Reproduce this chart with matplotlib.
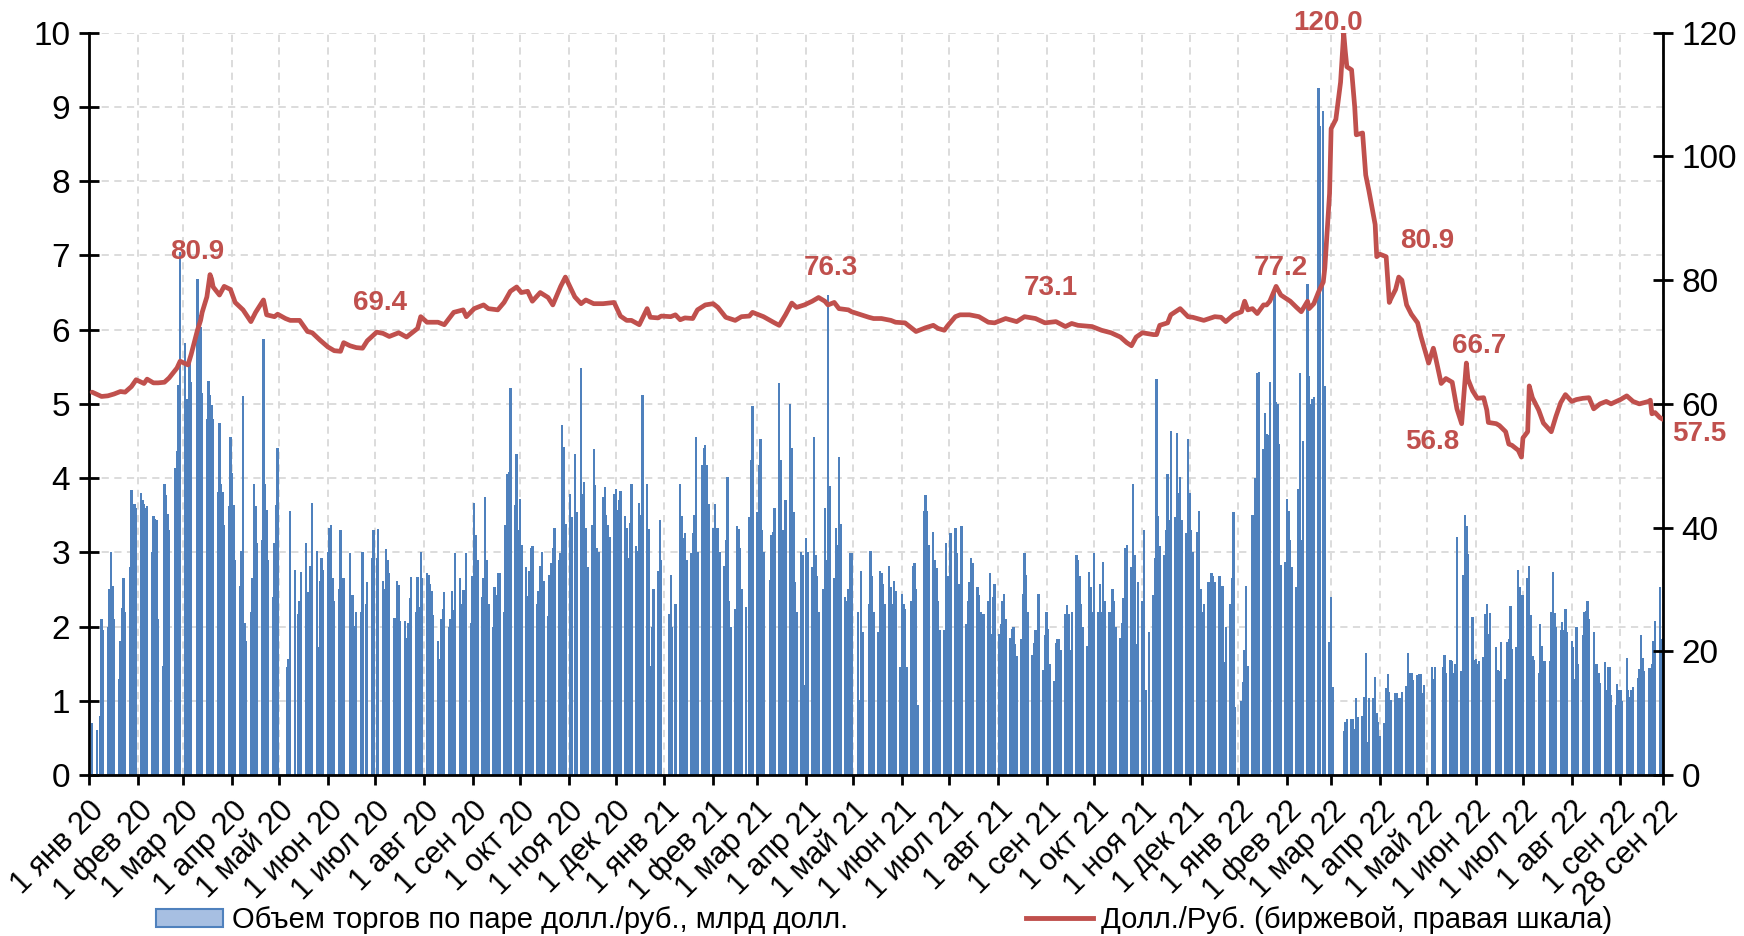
import matplotlib
matplotlib.use("Agg")
import matplotlib.pyplot as plt
import matplotlib.dates as mdates
from matplotlib.patches import Patch
from matplotlib.lines import Line2D
import pandas as pd

# daily trading volume USD/RUB, bn USD; one list per month, one value per weekday
# (None = no trading that day)
vol_2020 = [
    [None, None, 0.7, 0.6, None, 0.8, 2.1, 1.95, 2.0, 2.5, 3.0, 2.55, 2.1, 1.3, 1.8, 2.25, 2.66, 2.2, 2.8, 3.84, 3.28, 3.65, 3.6],
    [3.8, 3.7, 3.65, 3.6, 3.62, 3.0, 3.49, 3.45, 3.43, 2.1, 1.47, 3.92, 3.77, 3.52, 3.3, None, 4.13, 4.37, 5.26, 7.05],
    [5.82, 5.07, 4.15, 5.55, 5.3, None, 6.68, 6.2, 6.03, 5.14, 4.8, 5.31, 5.12, 4.98, 4.8, 3.81, 4.74, 3.92, 3.81, 3.37, 3.62, 4.56],
    [4.07, 3.64, 2.9, 2.55, 3.02, 5.1, 2.05, 1.8, 2.19, 2.65, 3.92, 3.62, 3.13, 3.17, 5.87, 3.92, 3.57, 2.89, 2.4, 3.13, 3.64, 4.4],
    [None, None, None, 1.45, 1.56, 3.56, 2.76, None, 2.17, 2.34, 2.74, 3.13, 2.46, 2.44, 2.82, 3.67, 3.02, 1.73, 2.61, 2.93, 2.76],
    [3.0, 3.33, 3.37, 2.65, 2.34, 2.51, 3.3, 2.34, 2.65, None, 2.99, 2.42, 2.42, 2.01, 2.19, 2.19, 3.01, None, 2.3, 2.6, 2.92, 3.3],
    [None, 2.92, 3.31, 2.61, 2.5, 3.04, 2.89, 2.72, 2.12, 2.12, 2.61, 2.56, 2.07, 2.07, 1.85, 2.05, 2.38, 2.67, 2.2, 2.67, 2.27, 3.01, 2.65],
    [2.72, 2.7, 2.58, 2.48, 2.15, 1.8, 1.56, 2.1, 2.24, 2.46, 2.0, 2.1, 2.48, 2.22, 2.99, 2.65, 2.3, 2.49, 2.49, 2.99, 2.05],
    [2.68, 3.67, 3.24, 2.89, 2.4, 2.65, 3.74, 2.89, 2.31, 2.0, 2.53, 2.42, 2.72, 2.72, 2.2, 3.37, 4.06, 4.08, 5.22, 3.64, 4.33, 3.3],
    [3.72, 3.1, 2.8, 2.41, 2.75, 3.06, 3.08, 2.3, 2.48, 2.82, 3.01, 2.61, 2.14, 2.7, 2.85, 3.06, 3.33, 2.9, 2.99, 4.72, 4.42, 3.38],
    [3.79, 3.47, None, 4.32, 3.54, 5.48, 3.79, 3.95, 3.33, 2.8, 3.37, 4.39, 3.91, 3.06, 3.0, 3.74, 3.88, 3.5, 3.37, 3.2, 3.79],
    [3.86, 3.57, 3.7, 3.83, 3.49, 3.33, 2.92, 3.4, 3.92, 3.09, 3.02, 3.67, 3.5, 5.12, 3.92, 3.31, 1.47, 2.0, 2.5, 2.75, 3.43, 2.9, None],
]
vol_2021 = [
    [None, 2.17, 2.7, 1.99, None, 2.31, 3.92, 3.49, 3.19, 3.26, 2.9, 2.99, 3.26, 3.5, 4.56, 3.0, 4.17, 4.4, 4.44, 4.17, 3.65],
    [3.33, 3.65, 3.33, 3.33, 3.0, 2.82, 3.16, 4.01, 2.34, 2.0, 2.24, 3.35, 3.31, 3.06, 2.5, 2.27, None, 3.47, 4.25, 4.97],
    [3.54, 4.18, 4.53, 3.3, 3.0, None, 2.63, 3.24, 3.28, 3.6, 5.28, 4.24, 3.3, 3.0, 3.71, 5.0, 4.4, 3.54, 2.6, 2.2, 3.01, 2.97, 1.21],
    [3.19, 3.0, 2.8, 4.56, 2.96, 2.68, 2.2, 2.51, 3.6, 2.9, 6.47, 3.9, 2.65, 3.33, 3.1, 4.29, 3.38, 2.4, 2.35, 2.51, 2.99, 2.99],
    [None, 2.19, 1.01, 2.75, 1.92, None, 2.31, 3.02, 2.68, 2.2, 1.93, 2.75, 2.72, 2.58, 2.3, 2.82, 2.53, 2.31, 2.61, 2.48, 1.45],
    [2.44, 2.3, 2.24, 1.45, 2.35, 2.81, 2.85, 2.5, 0.94, None, 3.56, 3.77, 3.56, 3.1, 3.28, 2.9, 2.79, 2.35, 1.95, 1.95, 3.13, 2.68],
    [1.42, 3.26, 3.33, 2.99, 2.58, 2.0, 3.35, 2.03, 2.34, 2.6, 2.92, 2.85, 2.53, 2.42, 2.2, 2.15, 2.17, 2.34, 2.72, 1.9, 2.4, 2.58],
    [1.9, 2.03, 2.34, 2.44, 2.1, 1.85, 1.97, 2.0, 1.76, 1.6, 1.83, 2.44, 2.99, 2.7, 2.2, 1.62, 1.78, 1.95, 1.95, 2.44, 1.42, 1.88],
    [2.19, 1.97, 1.5, 1.26, 1.78, 1.83, 1.83, 1.69, 2.17, 2.29, 2.17, 1.69, 2.2, 2.97, 2.9, 2.68, 2.31, 2.0, 1.74, 2.74, 2.53, 2.2],
    [2.99, 2.19, 2.58, 2.2, 2.87, 2.35, 2.2, 1.8, 2.51, 2.34, 2.0, 1.85, 2.05, 2.38, 3.06, 3.1, 2.8, 3.92, 2.96, 1.76, 2.6],
    [2.34, 3.3, 1.15, None, 1.93, 2.42, 2.92, 5.34, 3.49, 3.09, 2.97, 3.3, 4.05, 3.43, 4.63, 3.47, 4.61, 3.8, 4.01, 3.43, 3.26, 4.53],
    [3.8, 3.3, 3.0, 3.28, 3.56, 2.51, 2.2, 2.31, 2.6, 2.55, 2.72, 2.68, 2.6, 2.68, 2.55, 2.55, 1.52, 2.0, 2.31, 2.65, 3.54, 0.91, None],
]
vol_2022 = [
    [1.0, 1.25, 1.69, 2.55, 1.47, 3.5, 3.26, 4.0, 5.41, 5.43, 4.39, 4.88, 4.59, 4.58, 5.3, 6.49, 5.02, 5.0, 4.46, 2.83, 2.87],
    [3.72, 3.56, 3.17, 2.8, 2.53, 3.86, 5.41, 3.17, 4.5, 6.61, 5.38, 5.0, 5.07, 5.09, 9.25, 8.74, None, 8.95, 5.24, 1.79],
    [2.4, 1.19, None, None, None, None, 0.59, 0.71, 0.75, 0.75, 0.75, 0.62, 1.04, 0.78, 0.8, 1.05, 1.64, 0.44, 1.04, 1.04, 1.32, 0.83, 0.71],
    [0.52, 0.7, 1.17, 1.36, 1.12, 1.01, 1.11, 1.11, 1.04, 1.04, 1.12, 1.2, 1.64, 1.38, 1.38, 1.28, 1.35, 1.36, 1.36, 1.1, 1.21],
    [None, None, 1.45, 1.3, 1.45, None, None, 1.45, 1.62, 1.38, 1.55, 1.54, 1.38, 1.5, 3.21, 1.4, 2.7, 3.5, 3.36, 2.98, 2.13, 1.55],
    [1.56, 1.5, 1.53, 1.59, 2.17, 2.31, 1.9, 2.18, None, 1.73, 1.41, 1.4, 1.79, 1.3, 1.79, 1.83, 2.28, 1.7, 1.72, 2.76, 2.53, 2.43],
    [2.43, 2.65, 2.81, 2.16, 1.61, 1.55, 1.37, 2.04, 1.74, 1.54, 1.54, 1.54, 2.19, 2.74, 2.18, 2.0, 1.96, 2.06, 1.96, 2.23, 1.92],
    [1.81, 1.73, 1.3, 2.0, 1.5, 1.89, 2.19, 2.21, 2.34, 2.1, 1.93, 1.49, 1.49, 1.37, 1.24, 1.52, 1.14, 1.46, 1.46, 1.08, 0.94, 1.22, 1.15],
    [1.15, 1.0, 1.58, 1.14, 1.05, 1.15, 1.18, 1.31, 1.43, 1.89, 1.58, 1.4, 1.44, 1.44, 1.5, 1.8, 2.08, 2.53, 1.83, 1.85],
]

# USD/RUB exchange rate (right scale), (month-day, value)
rate_2020 = [
    ("01-03", 61.9), ("01-09", 61.2), ("01-13", 61.3), ("01-17", 61.6), ("01-21", 62.0), ("01-24", 61.9),
    ("01-28", 62.8), ("01-31", 63.9), ("02-05", 63.3), ("02-07", 64.0), ("02-11", 63.4), ("02-14", 63.4),
    ("02-18", 63.5), ("02-21", 64.2), ("02-26", 65.8), ("02-28", 66.9), ("03-04", 66.3), ("03-06", 68.0),
    ("03-10", 71.9), ("03-12", 73.5), ("03-13", 74.8), ("03-16", 77.3), ("03-18", 80.9), ("03-19", 80.2),
    ("03-20", 78.9), ("03-24", 77.6), ("03-27", 79.0), ("03-31", 78.5), ("04-03", 76.4), ("04-08", 75.2),
    ("04-13", 73.3), ("04-16", 74.8), ("04-21", 76.8), ("04-23", 74.4), ("04-28", 74.1), ("04-30", 74.5),
    ("05-05", 73.8), ("05-08", 73.5), ("05-14", 73.5), ("05-19", 71.7), ("05-22", 71.5), ("05-27", 70.3),
    ("06-01", 69.2), ("06-05", 68.6), ("06-09", 68.5), ("06-11", 69.9), ("06-15", 69.4), ("06-19", 69.1),
    ("06-23", 69.0), ("06-26", 70.2), ("07-02", 71.6), ("07-06", 71.4), ("07-10", 70.9), ("07-16", 71.5),
    ("07-21", 70.8), ("07-24", 71.4), ("07-28", 72.2), ("07-30", 74.1), ("08-03", 73.2), ("08-10", 73.2),
    ("08-14", 72.8), ("08-20", 74.8), ("08-26", 75.2), ("08-28", 74.1), ("09-02", 75.4), ("09-08", 76.0),
    ("09-11", 75.4), ("09-17", 75.2), ("09-21", 76.4), ("09-25", 78.2), ("09-29", 78.9), ("10-02", 78.0),
    ("10-06", 78.2), ("10-09", 76.6), ("10-14", 78.0), ("10-19", 77.2), ("10-22", 76.0), ("10-27", 79.0),
    ("10-30", 80.5), ("11-05", 77.3), ("11-09", 76.2), ("11-12", 76.8), ("11-17", 76.2), ("11-23", 76.2),
    ("11-30", 76.4), ("12-04", 74.2), ("12-08", 73.5), ("12-11", 73.5), ("12-16", 72.8), ("12-21", 75.4),
    ("12-23", 74.0), ("12-28", 73.9), ("12-30", 74.2),
]
rate_2021 = [
    ("01-05", 74.1), ("01-08", 74.4), ("01-11", 73.6), ("01-14", 73.9), ("01-19", 73.8), ("01-22", 75.2),
    ("01-27", 76.0), ("02-01", 76.2), ("02-04", 75.6), ("02-09", 74.0), ("02-15", 73.5), ("02-19", 74.1),
    ("02-24", 74.2), ("02-26", 74.8), ("03-02", 74.4), ("03-05", 74.1), ("03-12", 73.1), ("03-15", 72.7),
    ("03-19", 74.4), ("03-23", 76.3), ("03-26", 75.6), ("03-31", 76.0), ("04-05", 76.6), ("04-09", 77.2),
    ("04-13", 76.6), ("04-15", 76.0), ("04-19", 76.4), ("04-22", 75.4), ("04-28", 75.2), ("04-30", 74.9),
    ("05-06", 74.4), ("05-11", 74.0), ("05-14", 73.8), ("05-19", 73.8), ("05-25", 73.5), ("05-28", 73.2),
    ("06-03", 73.1), ("06-07", 72.3), ("06-10", 71.7), ("06-16", 72.3), ("06-21", 72.7), ("06-24", 72.2),
    ("06-28", 71.9), ("06-30", 72.6), ("07-05", 74.1), ("07-08", 74.4), ("07-14", 74.4), ("07-20", 74.1),
    ("07-26", 73.2), ("07-30", 73.1), ("08-06", 73.8), ("08-13", 73.3), ("08-18", 74.1), ("08-25", 73.8),
    ("08-31", 73.1), ("09-07", 73.3), ("09-13", 72.5), ("09-17", 73.0), ("09-21", 72.7), ("09-30", 72.5),
    ("10-06", 71.9), ("10-12", 71.5), ("10-18", 70.8), ("10-22", 69.9), ("10-25", 69.4), ("10-28", 70.8),
    ("11-01", 71.5), ("11-08", 71.2), ("11-10", 71.2), ("11-12", 72.7), ("11-17", 73.1), ("11-19", 74.4),
    ("11-25", 75.4), ("11-30", 74.1), ("12-03", 74.0), ("12-10", 73.5), ("12-17", 74.1), ("12-21", 74.0),
    ("12-24", 73.3), ("12-29", 74.4),
]
rate_2022 = [
    ("01-03", 74.9), ("01-05", 76.6), ("01-07", 75.2), ("01-10", 75.4), ("01-13", 74.6), ("01-17", 76.0),
    ("01-19", 76.0), ("01-21", 76.6), ("01-25", 79.0), ("01-28", 77.6), ("02-03", 76.6), ("02-07", 75.6),
    ("02-10", 74.9), ("02-14", 76.6), ("02-15", 75.4), ("02-18", 76.2), ("02-21", 78.1), ("02-24", 79.7),
    ("02-25", 82.0), ("02-28", 94.0), ("03-01", 104.5), ("03-03", 105.5), ("03-04", 106.0), ("03-07", 112.0),
    ("03-09", 120.0), ("03-10", 117.0), ("03-11", 114.5), ("03-14", 114.0), ("03-16", 108.0), ("03-17", 103.5),
    ("03-21", 103.8), ("03-23", 97.0), ("03-25", 94.5), ("03-29", 89.0), ("03-30", 83.8), ("04-01", 84.2),
    ("04-05", 83.8), ("04-07", 76.4), ("04-08", 77.0), ("04-11", 78.5), ("04-13", 80.5), ("04-15", 80.0),
    ("04-18", 76.0), ("04-21", 74.5), ("04-25", 73.1), ("04-27", 71.0), ("05-02", 66.6), ("05-05", 69.0),
    ("05-06", 68.0), ("05-10", 63.3), ("05-13", 64.1), ("05-17", 63.5), ("05-20", 59.2), ("05-23", 56.8),
    ("05-24", 60.0), ("05-26", 66.6), ("05-27", 64.0), ("05-30", 62.1), ("06-02", 60.9), ("06-06", 61.0),
    ("06-08", 59.0), ("06-09", 57.0), ("06-14", 56.8), ("06-16", 56.5), ("06-20", 55.5), ("06-22", 53.5),
    ("06-24", 53.3), ("06-28", 52.5), ("06-30", 51.4), ("07-01", 54.5), ("07-04", 55.5), ("07-05", 62.9),
    ("07-07", 61.0), ("07-11", 59.0), ("07-14", 56.9), ("07-19", 55.5), ("07-22", 58.0), ("07-25", 60.2),
    ("07-28", 61.5), ("08-01", 60.4), ("08-04", 60.7), ("08-08", 60.9), ("08-12", 61.0), ("08-15", 59.2),
    ("08-19", 60.0), ("08-23", 60.4), ("08-26", 60.0), ("09-01", 60.7), ("09-05", 61.3), ("09-09", 60.4),
    ("09-13", 60.0), ("09-19", 60.4), ("09-20", 60.6), ("09-21", 58.4), ("09-23", 58.6), ("09-26", 57.8),
    ("09-28", 57.5),
]

# value labels on the line: text, date, position on right scale
label_texts = ["80.9", "69.4", "76.3", "73.1", "77.2", "120.0", "80.9", "56.8", "66.7", "57.5"]
label_dates = ["2020-03-10", "2020-07-04", "2021-04-17", "2021-09-04", "2022-01-28",
               "2022-02-27", "2022-05-01", "2022-05-04", "2022-06-03", "2022-10-21"]
label_ypos = [84.6, 76.3, 82.0, 78.8, 82.0, 121.5, 86.4, 53.8, 69.3, 55.2]

month_names = ["янв", "фев", "мар", "апр", "май", "июн", "июл", "авг", "сен", "окт", "ноя", "дек"]
legend_labels = ["Объем торгов по паре долл./руб., млрд долл.",
                 "Долл./Руб. (биржевой, правая шкала)"]

BLUE = "#4F81BD"
RED = "#C0504D"
FONT = ["Liberation Sans", "DejaVu Sans"]
LAST_DAY = pd.Timestamp("2022-09-28")


def weekdays(year, month, n):
    start = pd.Timestamp(year, month, 1)
    end = min(start + pd.offsets.MonthEnd(0), LAST_DAY)
    days = pd.bdate_range(start, end)
    assert len(days) == n, (year, month, len(days), n)
    return days


bar_x, bar_h = [], []
for year, months in [(2020, vol_2020), (2021, vol_2021), (2022, vol_2022)]:
    for m, vals in enumerate(months, start=1):
        for d, v in zip(weekdays(year, m, len(vals)), vals):
            if v is not None:
                bar_x.append(mdates.date2num(d.to_pydatetime()))
                bar_h.append(v)

rate_x, rate_y = [], []
for year, pts in [(2020, rate_2020), (2021, rate_2021), (2022, rate_2022)]:
    for md, v in pts:
        rate_x.append(mdates.date2num(pd.Timestamp(f"{year}-{md}").to_pydatetime()))
        rate_y.append(v)

fig = plt.figure(figsize=(17.44, 9.36), dpi=100)
ax = fig.add_axes([0.051, 0.172, 0.9025, 0.793])
ax2 = ax.twinx()

ax.bar(bar_x, bar_h, width=1.5, color=BLUE, linewidth=0, zorder=2)
ax2.plot(rate_x, rate_y, color=RED, lw=3.4, solid_joinstyle="round", solid_capstyle="round", zorder=3)

x0 = mdates.date2num(pd.Timestamp("2020-01-01").to_pydatetime())
x1 = mdates.date2num(LAST_DAY.to_pydatetime())
ax.set_xlim(x0, x1)
ax.set_ylim(0, 10)
ax2.set_ylim(0, 120)

tick_days = list(pd.date_range("2020-01-01", "2022-09-01", freq="MS")) + [LAST_DAY]
ax.set_xticks([mdates.date2num(d.to_pydatetime()) for d in tick_days])
ax.set_xticklabels([f"{d.day} {month_names[d.month - 1]} {d.year % 100}" for d in tick_days],
                   rotation=45, ha="right", rotation_mode="anchor", family=FONT, fontsize=22)
ax.set_yticks(range(0, 11))
ax2.set_yticks(range(0, 121, 20))
for lab in ax.get_yticklabels() + ax2.get_yticklabels():
    lab.set_family(FONT)

ax.tick_params(axis="x", direction="out", length=7, width=2, pad=8)
ax.tick_params(axis="y", direction="inout", length=15, width=2, labelsize=24, pad=6)
ax2.tick_params(axis="y", direction="inout", length=15, width=2, labelsize=24, pad=6)

ax.grid(True, color="#D9D9D9", linestyle=(0, (4, 3)), lw=1.3)
ax.set_axisbelow(True)

for s in ["top", "right"]:
    ax.spines[s].set_visible(False)
for s in ["top", "left", "bottom"]:
    ax2.spines[s].set_visible(False)
ax.spines["left"].set_linewidth(2)
ax.spines["bottom"].set_linewidth(2)
ax2.spines["right"].set_linewidth(2)

for t, d, y in zip(label_texts, label_dates, label_ypos):
    ax2.text(mdates.date2num(pd.Timestamp(d).to_pydatetime()), y, t, color=RED, fontsize=20,
             fontweight="bold", family=FONT, ha="center", va="center", clip_on=False, zorder=4)

handles = [Patch(facecolor="#A7BFE2", edgecolor=BLUE, lw=1.5),
           Line2D([], [], color=RED, lw=3.5)]
fig.legend(handles, legend_labels, loc="center", bbox_to_anchor=(0.507, 0.017), ncol=2,
           frameon=False, prop={"family": FONT, "size": 21}, columnspacing=6.1,
           handlelength=2.3, handletextpad=0.3, handleheight=0.6)

fig.savefig("out.png", dpi=100)
